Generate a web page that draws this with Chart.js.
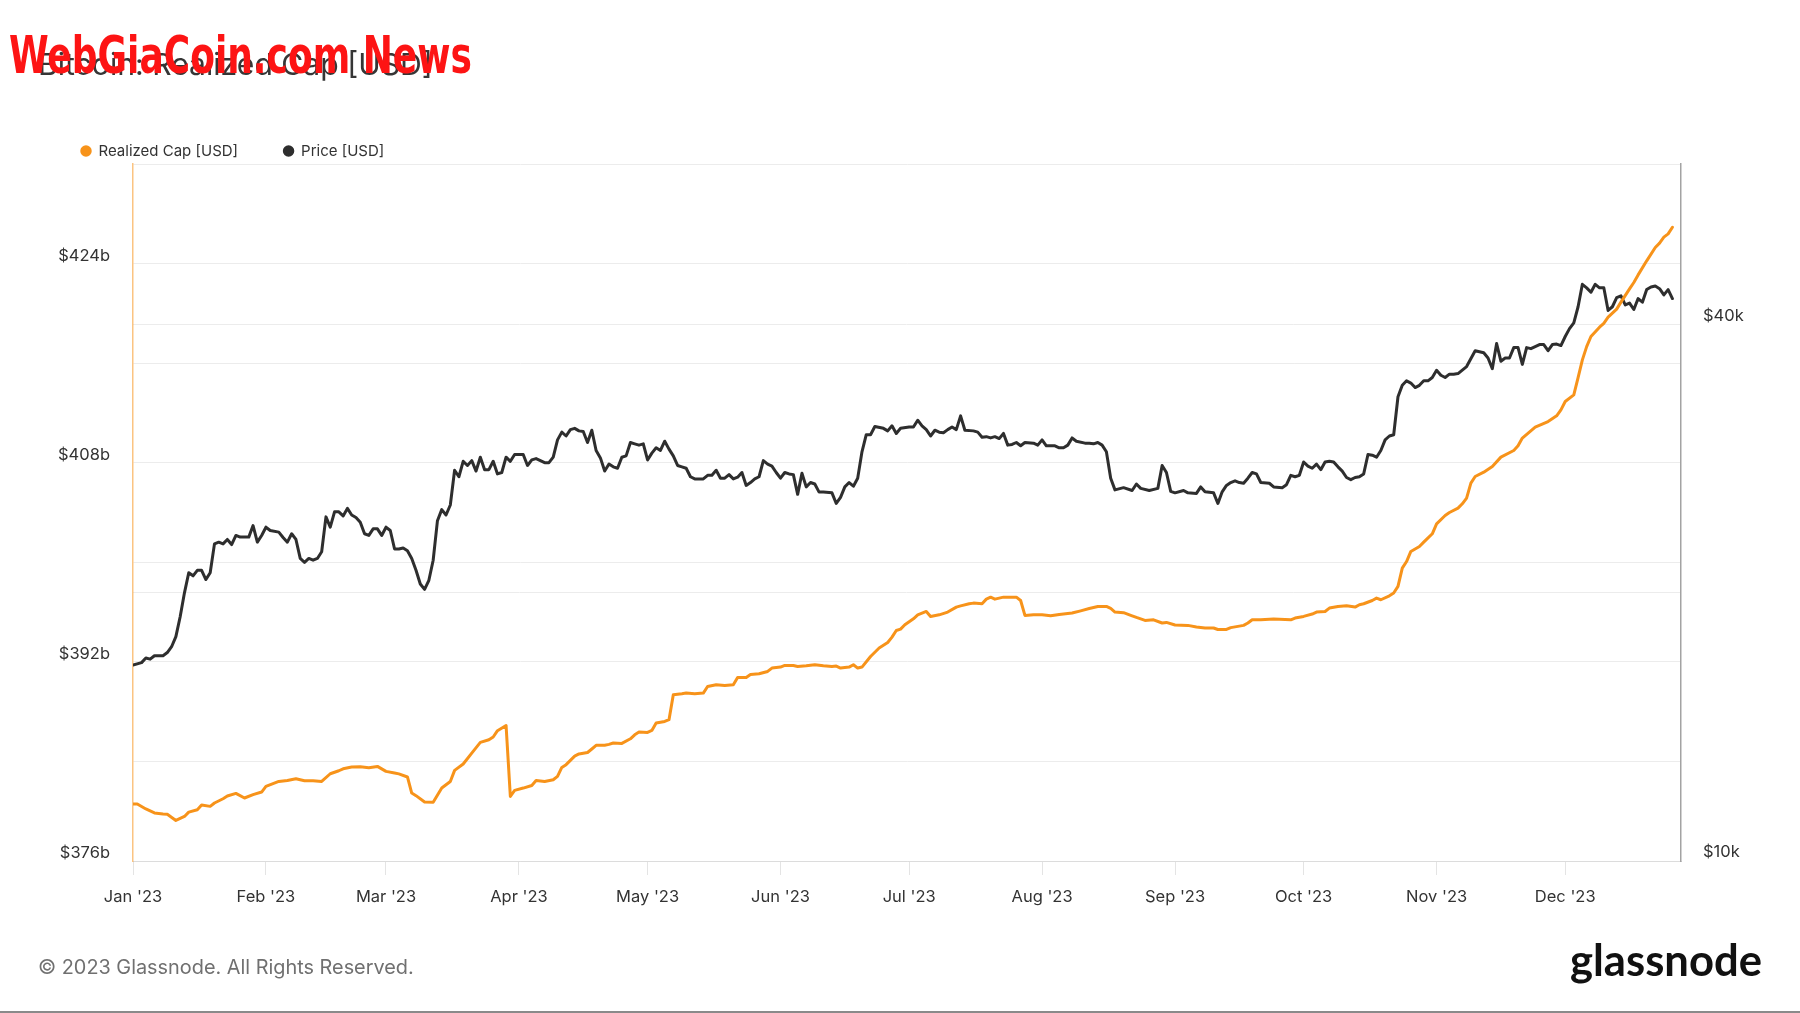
<!DOCTYPE html>
<html><head><meta charset="utf-8">
<script src="https://cdn.jsdelivr.net/npm/chart.js@4.4.1/dist/chart.umd.min.js"></script>
<style>
html,body{margin:0;padding:0;background:#fff;}
#wrap{position:relative;width:1800px;height:1013px;overflow:hidden;background:#fff;}
#c{position:absolute;left:0;top:0;}
.txt{position:absolute;white-space:nowrap;line-height:1;}
#title{left:38px;top:48px;font-family:Inter,sans-serif;font-size:29px;color:#363636;font-weight:400;}
#wm{left:9px;top:29px;font-family:"Liberation Sans Narrow","DejaVu Sans Condensed","Liberation Sans",Arial,sans-serif;font-weight:700;font-size:52px;color:#fd1414;transform-origin:0 0;}
#foot{left:38px;top:958px;font-family:Inter,sans-serif;font-size:20px;color:#707070;}
#logo{left:1570px;top:941px;font-family:Lato,sans-serif;font-weight:700;font-size:42px;color:#111;}
#bline{position:absolute;left:0;top:1011px;width:1800px;height:2px;background:#8a8a8a;}
</style></head>
<body><div id="wrap"><canvas id="c" width="1800" height="1013"></canvas>
<div class="txt" id="title">Bitcoin: Realized Cap [USD]</div>
<div class="txt" id="wm">WebGiaCoin.com News</div>
<div class="txt" id="foot">© 2023 Glassnode. All Rights Reserved.</div>
<div class="txt" id="logo">glassnode</div>
<div id="bline"></div></div>
<script>
// ---- data ----
const monthLabels = ["Jan '23","Feb '23","Mar '23","Apr '23","May '23","Jun '23","Jul '23","Aug '23","Sep '23","Oct '23","Nov '23","Dec '23"];
const monthStartDays = [0,31,59,90,120,151,181,212,243,273,304,334];
const leftTickLabels = {376:"$376b",392:"$392b",408:"$408b",424:"$424b"};
const rightTickValues = [10,20,40];
const rightTickLabels = ["$10k","","$40k"];

// Realized Cap [USD], billions, by day of 2023 (0 = Jan 1)
const capDays = [0,1,3,5,7,8,10,12,13,15,16,18,19,21,22,24,26,28,30,31,34,36,38,40,42,44,46,48,49,51,53,55,57,59,61,62,64,65,66,68,70,72,74,75,77,79,81,83,84,85,87,88,89,91,93,94,96,98,99,100,101,103,104,106,107,108,110,111,112,114,116,117,118,120,121,122,124,125,126,128,129,131,133,134,136,138,140,141,143,144,146,148,149,151,152,154,155,157,159,161,163,164,165,167,168,169,170,172,174,176,177,178,179,180,182,183,185,186,188,190,192,193,195,196,198,199,200,201,203,205,206,207,208,210,212,214,216,219,221,223,225,227,228,229,231,233,234,236,238,240,241,243,246,248,250,252,253,255,256,258,259,260,261,263,266,270,271,273,275,276,278,279,281,283,285,286,287,289,290,291,293,294,295,296,297,298,300,301,303,304,306,307,309,310,311,312,313,315,317,319,322,323,324,327,330,332,333,334,336,337,338,339,340,342,343,344,346,347,349,350,351,353,355,356,357,358,359];
const capValues = [380.58,380.58,380.18,379.86,379.78,379.75,379.26,379.58,379.93,380.12,380.5,380.39,380.66,381.0,381.22,381.43,381.06,381.33,381.54,381.99,382.39,382.47,382.61,382.45,382.45,382.39,383.01,383.25,383.41,383.55,383.57,383.5,383.6,383.2,383.07,383.0,382.75,381.46,381.25,380.74,380.72,381.86,382.39,383.28,383.79,384.67,385.53,385.74,385.96,386.47,386.89,381.19,381.67,381.86,382.07,382.47,382.39,382.53,382.8,383.52,383.74,384.43,384.6,384.72,385.0,385.29,385.3,385.37,385.48,385.45,385.82,386.14,386.36,386.33,386.49,387.08,387.21,387.35,389.36,389.44,389.49,389.44,389.49,390.02,390.16,390.1,390.16,390.75,390.75,390.99,391.04,391.23,391.5,391.58,391.71,391.71,391.63,391.68,391.77,391.68,391.63,391.66,391.5,391.58,391.77,391.5,391.58,392.43,393.11,393.56,393.99,394.52,394.63,394.98,395.46,395.78,396.05,395.65,395.78,396.0,396.4,396.5,396.67,396.72,396.67,397.04,397.2,397.04,397.2,397.2,397.2,396.93,395.73,395.78,395.78,395.7,395.81,395.92,396.1,396.29,396.45,396.45,396.29,396.0,395.95,395.7,395.57,395.33,395.38,395.12,395.17,394.96,394.93,394.8,394.72,394.72,394.6,394.6,394.75,394.87,394.93,395.12,395.38,395.38,395.44,395.38,395.52,395.65,395.84,396.0,396.05,396.32,396.45,396.5,396.4,396.59,396.67,396.93,397.12,396.99,397.31,397.53,398.06,399.53,400.06,400.87,401.27,401.62,402.29,403.09,403.76,404.0,404.35,404.7,405.16,406.36,406.89,407.24,407.7,408.45,408.98,409.36,409.98,410.86,411.31,411.77,412.25,412.92,413.45,414.84,416.26,417.33,418.14,418.89,419.2,419.69,420.34,420.9,421.97,422.48,423.09,424.22,425.29,425.64,426.12,426.39,426.92];

// Price [USD], thousands, by day of 2023
const priceDays = [0,2,3,4,5,7,8,9,10,11,12,13,14,15,16,17,18,19,20,21,22,23,24,25,27,28,29,30,31,32,34,35,36,37,38,39,40,41,42,43,44,45,46,47,48,49,50,51,52,53,54,55,56,57,58,59,60,61,62,63,64,65,66,67,68,69,70,71,72,73,74,75,76,77,78,79,80,81,82,83,84,85,86,87,88,89,91,92,93,94,96,97,98,99,100,101,102,103,104,105,106,107,108,109,110,111,112,113,114,115,116,117,118,119,120,121,122,123,124,125,126,127,128,129,130,131,133,134,135,136,137,138,139,140,141,142,143,144,145,146,147,148,149,150,151,152,153,154,155,156,157,158,159,160,161,163,164,165,166,167,168,169,170,171,172,173,175,176,177,178,179,181,182,183,184,185,186,187,188,189,190,191,192,193,194,196,197,198,199,200,201,202,203,204,205,206,207,208,210,211,212,213,215,216,217,218,219,220,222,223,224,225,226,227,228,229,231,233,234,235,237,239,240,241,242,243,245,246,248,249,250,252,253,254,255,256,257,258,259,260,261,262,263,265,266,268,269,270,271,272,273,274,275,276,277,278,279,280,281,282,283,284,285,286,287,288,289,290,291,292,293,294,295,296,297,298,299,300,301,302,303,304,305,306,307,308,309,311,313,315,316,317,318,319,320,321,322,323,324,325,326,328,329,330,331,332,333,334,335,336,337,338,339,340,341,342,343,344,345,346,347,348,349,350,351,352,353,354,355,356,357,358,359];
const priceValues = [16.6,16.7,16.9,16.85,17.0,17.0,17.14,17.4,17.86,18.8,20.0,21.07,20.9,21.2,21.2,20.7,21.07,22.7,22.8,22.7,22.96,22.66,23.2,23.1,23.1,23.8,22.8,23.2,23.7,23.5,23.4,23.08,22.8,23.3,22.96,21.86,21.64,21.86,21.76,21.86,22.24,24.34,23.7,24.66,24.66,24.4,24.88,24.46,24.3,24.0,23.3,23.2,23.6,23.6,23.2,23.7,23.5,22.4,22.4,22.46,22.3,21.86,21.2,20.46,20.18,20.66,21.76,24.1,24.8,24.46,25.1,27.46,27.0,28.1,27.8,28.15,27.4,28.4,27.5,27.5,28.1,27.2,27.3,28.4,28.1,28.6,28.6,27.8,28.2,28.3,28.0,28.0,28.4,29.7,30.3,30.0,30.5,30.6,30.4,30.35,29.5,30.45,28.9,28.35,27.4,27.9,27.7,27.6,28.4,28.5,29.5,29.4,29.3,29.4,28.2,28.7,29.1,28.9,29.6,29.0,28.5,27.8,27.7,27.6,27.0,26.85,26.85,27.1,27.1,27.46,26.9,26.9,27.15,26.85,26.97,27.3,26.4,26.6,26.85,27.0,28.15,27.9,27.75,27.3,26.9,27.3,27.2,27.15,25.8,27.25,26.3,26.6,26.5,25.95,25.95,25.9,25.2,25.6,26.3,26.6,26.35,26.9,28.8,30.1,30.1,30.75,30.6,30.4,30.8,30.2,30.6,30.7,30.7,31.25,30.8,30.5,30.0,30.45,30.3,30.25,30.5,30.7,30.5,31.6,30.45,30.4,30.3,29.9,29.95,29.85,29.95,29.8,30.2,29.3,29.35,29.5,29.25,29.5,29.45,29.3,29.7,29.25,29.25,29.1,29.1,29.3,29.85,29.6,29.45,29.45,29.4,29.5,29.3,28.8,26.9,26.1,26.25,26.06,26.5,26.2,26.06,26.2,27.8,27.3,26.0,25.9,26.06,25.9,25.86,26.3,25.97,25.9,25.2,25.97,26.4,26.6,26.72,26.6,26.55,26.9,27.3,27.2,26.6,26.55,26.3,26.25,26.45,27.1,27.0,27.1,28.05,27.75,27.6,27.9,27.5,28.05,28.1,28.05,27.7,27.4,26.95,26.8,26.95,27.0,27.2,28.6,28.55,28.4,28.9,29.7,30.0,30.1,33.2,34.2,34.6,34.4,34.0,34.2,34.6,34.6,34.9,35.55,35.1,34.9,35.2,35.2,35.25,35.9,37.4,37.2,36.7,35.7,38.1,36.4,36.7,36.7,37.7,37.7,36.1,37.7,37.6,38.0,38.0,37.4,38.0,38.05,37.9,38.8,39.6,40.2,41.9,44.4,44.0,43.5,44.4,44.0,44.0,41.5,41.9,42.9,43.1,42.1,42.3,41.6,42.8,42.4,43.8,44.1,44.2,43.9,43.2,43.8,42.8];

// ---- layout ----
const plotBox = {left:133, right:1681, top:164, bottom:861};
const pad = {left:35.5, right:40, top:98, bottom:60};

const capPoints = capDays.map((d,i)=>({x:d, y:capValues[i]}));
const pricePoints = priceDays.map((d,i)=>({x:d, y:priceValues[i]}));

const legendHeightPlugin = {
  id:'legendHeight',
  afterInit(chart){
    const lg = chart.legend; if(!lg) return;
    const f = lg.fit.bind(lg);
    lg.fit = function(){ f(); this.height = plotBox.top - pad.top; };
  }
};

const tickFont = {family:'Inter', size:16.5};
new Chart(document.getElementById('c'), {
  type:'line',
  data:{ datasets:[
    {label:'Realized Cap [USD]', data:capPoints, yAxisID:'y', borderColor:'#f7931a', backgroundColor:'#f7931a', borderWidth:3, pointRadius:0, tension:0, borderJoinStyle:'round', borderCapStyle:'round'},
    {label:'Price [USD]', data:pricePoints, yAxisID:'y1', borderColor:'#2e2e2e', backgroundColor:'#2e2e2e', borderWidth:3, pointRadius:0, tension:0, borderJoinStyle:'round', borderCapStyle:'round'}
  ]},
  options:{
    responsive:false, animation:false, devicePixelRatio:1,
    layout:{padding:pad},
    plugins:{
      legend:{display:true, position:'top', align:'start',
        labels:{usePointStyle:true, pointStyle:'circle', boxWidth:10, boxHeight:6, padding:45.5, color:'#333', font:{family:'Inter', size:15}}},
      tooltip:{enabled:false}
    },
    scales:{
      x:{type:'linear', min:0, max:361,
        afterBuildTicks:s=>{ s.ticks = monthStartDays.map(v=>({value:v})); },
        ticks:{autoSkip:false, maxRotation:0, minRotation:0, padding:12, color:'#333', font:tickFont,
          callback:(v)=>{ const i = monthStartDays.indexOf(v); return i>=0 ? monthLabels[i] : ''; }},
        grid:{drawOnChartArea:false, drawTicks:true, tickLength:14, color:'#e4e4e4', tickColor:'#e4e4e4'},
        border:{display:true, color:'#dcdcdc', width:1},
        afterFit:s=>{ s.height = 1013 - pad.bottom - plotBox.bottom; }
      },
      y:{type:'linear', position:'left', min:376, max:432,
        ticks:{stepSize:8, padding:23, labelOffset:-8, color:'#333', font:tickFont,
          callback:(v)=> leftTickLabels[v] !== undefined ? leftTickLabels[v] : ''},
        grid:{color:'#ececec', drawTicks:false},
        border:{display:true, color:'rgba(247,147,26,0.55)', width:1.5},
        afterFit:s=>{ s.width = plotBox.left - pad.left; }
      },
      y1:{type:'logarithmic', position:'right', min:10, max:60.6,
        afterBuildTicks:s=>{ s.ticks = rightTickValues.map(v=>({value:v})); },
        ticks:{padding:22, labelOffset:-9, color:'#333', font:tickFont,
          callback:(v)=>{ const i = rightTickValues.indexOf(v); return i>=0 ? rightTickLabels[i] : ''; }},
        grid:{color:'#ececec', drawTicks:false, drawOnChartArea:true},
        border:{display:true, color:'#a3a3a3', width:1.5},
        afterFit:s=>{ s.width = 1800 - pad.right - plotBox.right; }
      }
    }
  },
  plugins:[legendHeightPlugin]
});

// ---- text placement ----
function fitFont(el, w){
  const r = el.getBoundingClientRect().width;
  const fs = parseFloat(getComputedStyle(el).fontSize);
  const nf = fs * w / r; el.style.fontSize = nf + 'px'; return nf;
}
const tEl = document.getElementById('title'); let fs = fitFont(tEl, 395); tEl.style.top = (64 - 0.5*fs) + 'px';
const fEl = document.getElementById('foot'); fs = fitFont(fEl, 376); fEl.style.top = (968 - 0.5*fs) + 'px';
const lEl = document.getElementById('logo'); fs = fitFont(lEl, 192); lEl.style.top = (977 - 0.887*fs) + 'px';
const wEl = document.getElementById('wm'); const ww = wEl.getBoundingClientRect().width; wEl.style.transform = 'scaleX(' + (463/ww) + ')';
</script>
</body></html>
